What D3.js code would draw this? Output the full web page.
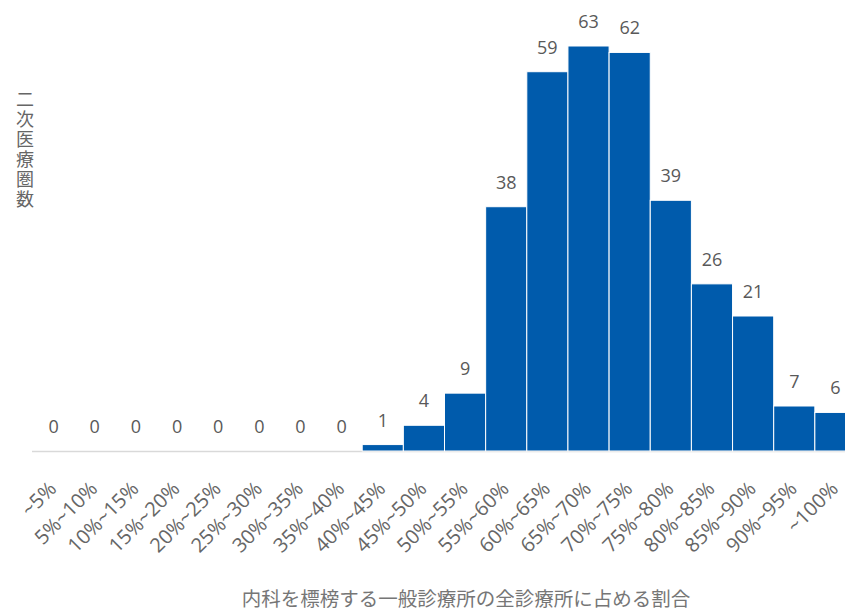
<!DOCTYPE html>
<html><head><meta charset="utf-8">
<script src="https://cdn.jsdelivr.net/npm/d3@7"></script>
<style>body{margin:0;background:#fff;}svg{display:block;}</style>
</head><body>
<svg id="c" width="845" height="614"></svg>
<script>
const categories = ["~5%","5%~10%","10%~15%","15%~20%","20%~25%","25%~30%","30%~35%","35%~40%","40%~45%","45%~50%","50%~55%","55%~60%","60%~65%","65%~70%","70%~75%","75%~80%","80%~85%","85%~90%","90%~95%","~100%"];
const values = [0,0,0,0,0,0,0,0,1,4,9,38,59,63,62,39,26,21,7,6];
const yTitle = "二次医療圏数";
const xTitle = "内科を標榜する一般診療所の全診療所に占める割合";

const svg = d3.select("#c");
const font = "'Open Sans','Noto Sans CJK JP',sans-serif";
const x = d3.scaleBand().domain(categories).range([33, 856]).padding(0);
const y = d3.scaleLinear().domain([0, 63]).range([451, 46]);

svg.append("line").attr("x1", 32).attr("x2", 845).attr("y1", 451.5).attr("y2", 451.5)
  .attr("stroke", "#d9d9d9").attr("stroke-width", 1.5);

svg.selectAll("rect.bar").data(values).enter().append("rect")
  .attr("class","bar")
  .attr("x", (d,i) => x(categories[i]))
  .attr("width", x.bandwidth())
  .attr("y", d => y(d))
  .attr("height", d => y(0) - y(d))
  .attr("fill", "#005bac")
  .attr("stroke", "#ffffff").attr("stroke-width", 1);

svg.selectAll("text.val").data(values).enter().append("text")
  .attr("class","val")
  .attr("x", (d,i) => x(categories[i]) + x.bandwidth()/2)
  .attr("y", d => y(d) - 18)
  .attr("text-anchor","middle")
  .attr("font-family", font).attr("font-size", 18).attr("fill", "#595959")
  .text(d => d);

svg.selectAll("text.tick").data(categories).enter().append("text")
  .attr("class","tick")
  .attr("transform", d => `translate(${x(d) + x.bandwidth()/2 + 4},490) rotate(-45)`)
  .attr("text-anchor","end")
  .attr("font-family", font).attr("font-size", 20).attr("fill", "#666666")
  .text(d => d);

svg.append("text")
  .attr("x", 24).attr("y", 90)
  .attr("font-family", font).attr("font-size", 18).attr("fill", "#666666")
  .style("writing-mode", "vertical-rl").style("text-orientation", "upright")
  .attr("letter-spacing", 2)
  .text(yTitle);

svg.append("text").attr("x", 466).attr("y", 606).attr("text-anchor","middle")
  .attr("font-family", font).attr("font-size", 19.5).attr("fill", "#767676")
  .text(xTitle);
</script>
</body></html>
